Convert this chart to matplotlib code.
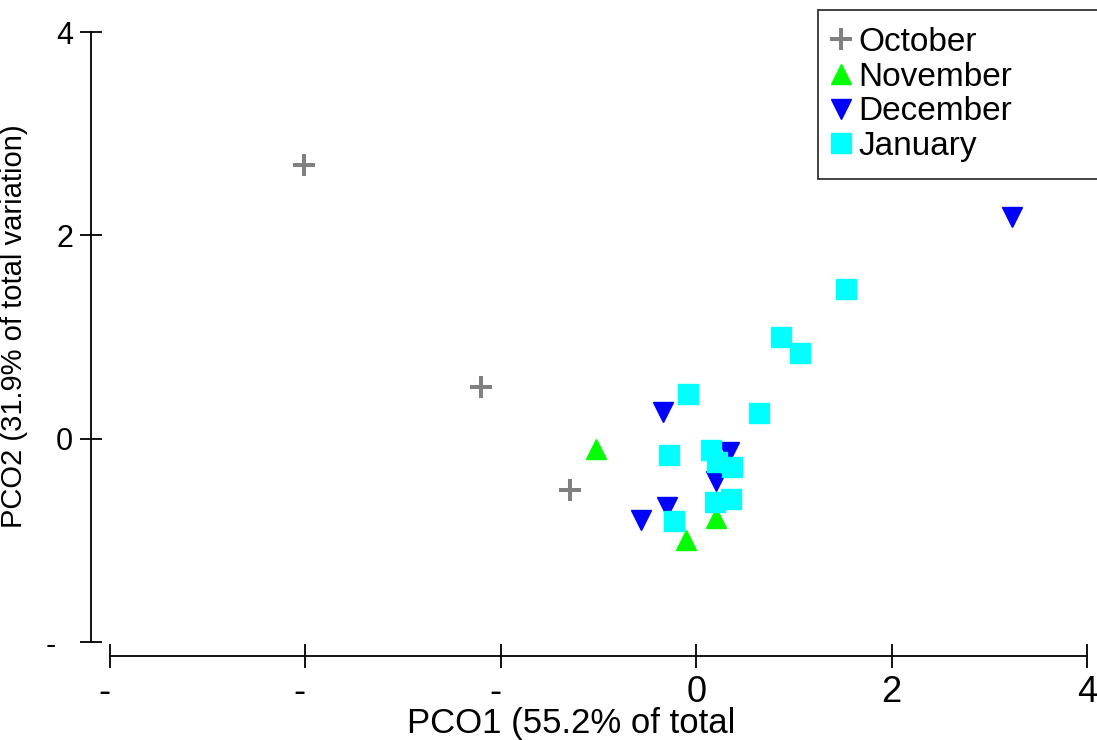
import matplotlib
matplotlib.use("Agg")
import matplotlib.pyplot as plt

# PCO scores per month
oct_x = [-4.01, -2.20, -1.29]
oct_y = [2.69, 0.51, -0.50]

nov_x = [-1.03, 0.20, -0.10]
nov_y = [-0.10, -0.78, -1.00]

dec_x = [3.23, -0.34, 0.34, 0.20, -0.30, -0.57]
dec_y = [2.18, 0.26, -0.13, -0.42, -0.67, -0.80]

jan_x = [1.53, 0.87, 1.06, 0.64, -0.08, -0.28, 0.15, 0.21, 0.37, 0.36, 0.19, -0.23]
jan_y = [1.47, 1.00, 0.84, 0.25, 0.44, -0.16, -0.11, -0.23, -0.28, -0.59, -0.62, -0.81]

x_ticks = [-6, -4, -2, 0, 2, 4]
x_tick_labels = ['- ', '- ', '- ', '0', '2', '4']
y_ticks = [-2, 0, 2, 4]
y_tick_labels = ['-  ', '0', '2', '4']

plt.rcParams['font.family'] = ['Liberation Sans', 'DejaVu Sans']

fig = plt.figure(figsize=(10.97, 7.4), dpi=100)
ax = fig.add_axes([110 / 1097, 98 / 740, 977 / 1097, 610 / 740])

ax.plot(oct_x, oct_y, linestyle='none', marker='+', color='#808080',
        markersize=16.5, markeredgewidth=2.9, label='October')
ax.plot(nov_x, nov_y, linestyle='none', marker='^', color='#00ff00',
        markersize=15, label='November')
ax.plot(dec_x, dec_y, linestyle='none', marker='v', color='#0000ff',
        markersize=15, label='December')
ax.plot(jan_x, jan_y, linestyle='none', marker='s', color='#00ffff',
        markersize=13.7, label='January')

ax.set_xlim(-6, 4)
ax.set_ylim(-2, 4)

for s in ['top', 'right']:
    ax.spines[s].set_visible(False)
ax.spines['left'].set_position(('outward', 13.7))
ax.spines['bottom'].set_position(('outward', 10))
ax.spines['left'].set_linewidth(1.3)
ax.spines['bottom'].set_linewidth(1.3)

ax.set_xticks(x_ticks)
ax.set_xticklabels(x_tick_labels, fontsize=26)
ax.set_yticks(y_ticks)
ax.set_yticklabels(y_tick_labels, fontsize=22)
ax.tick_params(axis='x', direction='inout', length=17, width=1.3, pad=5)
ax.tick_params(axis='y', direction='inout', length=16, width=1.3, pad=5)

ax.set_xlabel('PCO1 (55.2% of total', fontsize=25)
ax.xaxis.set_label_coords(0.472, -0.107)
ax.set_ylabel('PCO2 (31.9% of total variation)', fontsize=21)
ax.yaxis.set_label_coords(-0.084, 0.518)

leg = ax.legend(loc='upper left',
                bbox_to_anchor=(818 / 1097, 1 - 178 / 740, 300 / 1097, 168 / 740),
                bbox_transform=fig.transFigure, mode='expand', fontsize=24,
                frameon=True, fancybox=False, edgecolor='black',
                handlelength=0.35, handletextpad=0.36, labelspacing=0.115,
                borderpad=0.5, borderaxespad=0)
leg.get_frame().set_linewidth(1.3)

fig.savefig('out.png', dpi=100)
